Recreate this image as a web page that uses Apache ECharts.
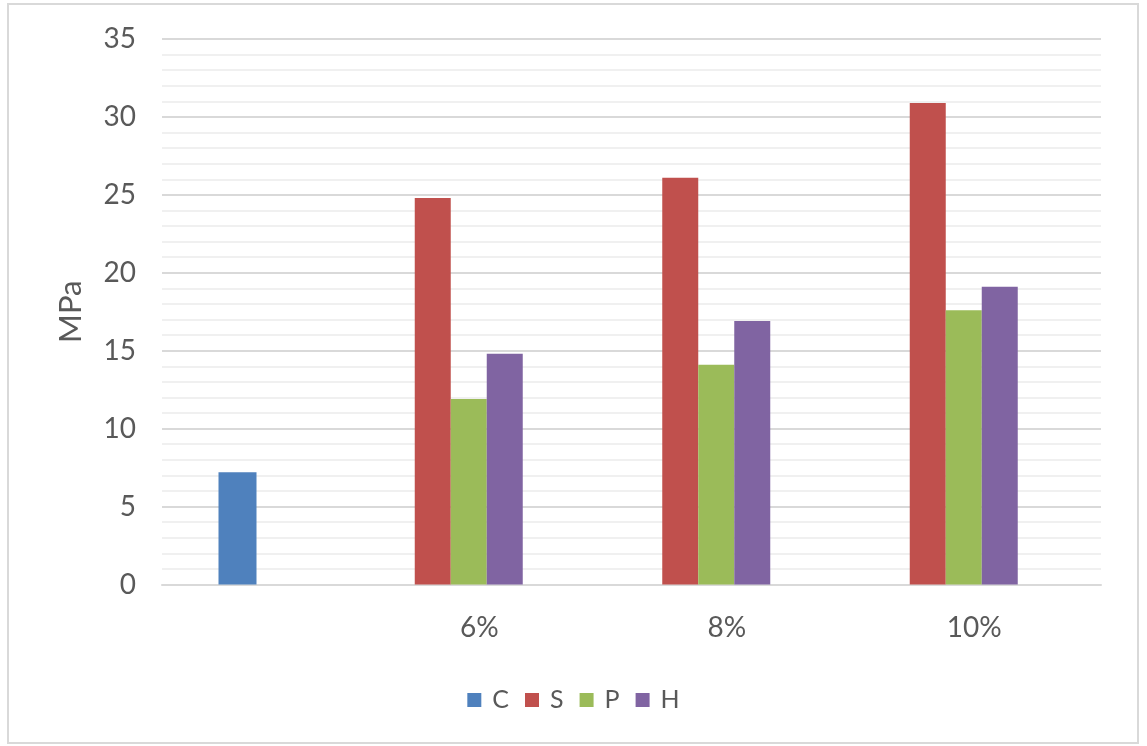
<!DOCTYPE html>
<html>
<head>
<meta charset="utf-8">
<script src="https://cdn.jsdelivr.net/npm/echarts@6/dist/echarts.min.js"></script>
<style>
html,body{margin:0;padding:0;background:#fff;}
#chart{width:1147px;height:746px;}
</style>
</head>
<body>
<div id="chart"></div>
<script>
const categories = ['', '6%', '8%', '10%'];
const seriesNames = ['C', 'S', 'P', 'H'];
const valuesC = [7.2, '-', '-', '-'];
const valuesS = ['-', 24.8, 26.1, 30.9];
const valuesP = ['-', 11.9, 14.1, 17.6];
const valuesH = ['-', 14.8, 16.9, 19.1];
const yTicks = { min: 0, max: 35, interval: 5 };
const yName = 'MPa';

const colors = ['#4F81BD', '#C0504D', '#9BBB59', '#8064A2'];
const textColor = '#595959';
const font = 'Lato, "Open Sans", sans-serif';

const chart = echarts.init(document.getElementById('chart'));
chart.setOption({
  animation: false,
  color: colors,
  graphic: [{
    type: 'rect', left: 7, top: 3, z: -10,
    shape: { width: 1130, height: 739 },
    style: { fill: '#fff', stroke: '#d9d9d9', lineWidth: 2 }
  }],
  grid: [
    { left: 162, right: 46, top: 39, bottom: 161.5 },
    { left: 97.5, right: 59.5, top: 39, bottom: 161.5 },
    { left: 113.75, right: 43.25, top: 39, bottom: 161.5 }
  ],
  legend: {
    data: seriesNames,
    left: 'center',
    top: 681,
    icon: 'rect',
    itemWidth: 14,
    itemHeight: 14,
    itemGap: 16,
    textStyle: { color: textColor, fontSize: 25, fontFamily: font, padding: [0, 0, 0, 6], lineHeight: 28 }
  },
  xAxis: [
    {
      type: 'category', gridIndex: 0, data: categories,
      axisLine: { show: true, lineStyle: { color: '#d9d9d9', width: 2 } },
      axisTick: { show: false }, axisLabel: { show: false }, splitLine: { show: false }
    },
    {
      type: 'category', gridIndex: 1, data: categories, position: 'bottom',
      axisLine: { show: false }, axisTick: { show: false },
      axisLabel: { color: textColor, fontSize: 28, fontFamily: font, margin: 29, padding: [0, 0, 0, 21] },
      splitLine: { show: false }
    },
    {
      type: 'category', gridIndex: 2, data: categories, show: false
    }
  ],
  yAxis: [
    {
      type: 'value', gridIndex: 0, min: yTicks.min, max: yTicks.max, interval: yTicks.interval,
      name: yName, nameLocation: 'middle', nameRotate: 90, nameGap: 76,
      nameTextStyle: { color: textColor, fontSize: 31, fontFamily: font },
      axisLine: { show: false }, axisTick: { show: false },
      axisLabel: { color: textColor, fontSize: 28, fontFamily: font, margin: 26 },
      splitLine: { show: true, lineStyle: { color: '#d9d9d9', width: 2 } },
      minorTick: { show: false, splitNumber: 5 },
      minorSplitLine: { show: true, lineStyle: { color: '#ececec', width: 1.5 } }
    },
    {
      type: 'value', gridIndex: 1, min: yTicks.min, max: yTicks.max, interval: yTicks.interval, show: false
    },
    {
      type: 'value', gridIndex: 2, min: yTicks.min, max: yTicks.max, interval: yTicks.interval, show: false
    }
  ],
  series: [
    { name: 'C', type: 'bar', xAxisIndex: 2, yAxisIndex: 2, data: valuesC, barWidth: 38, itemStyle: { color: colors[0] } },
    { name: 'S', type: 'bar', xAxisIndex: 1, yAxisIndex: 1, data: valuesS, barWidth: 36, barGap: '0%', itemStyle: { color: colors[1] } },
    { name: 'P', type: 'bar', xAxisIndex: 1, yAxisIndex: 1, data: valuesP, barWidth: 36, barGap: '0%', itemStyle: { color: colors[2] } },
    { name: 'H', type: 'bar', xAxisIndex: 1, yAxisIndex: 1, data: valuesH, barWidth: 36, barGap: '0%', itemStyle: { color: colors[3] } }
  ]
});
</script>
</body>
</html>
